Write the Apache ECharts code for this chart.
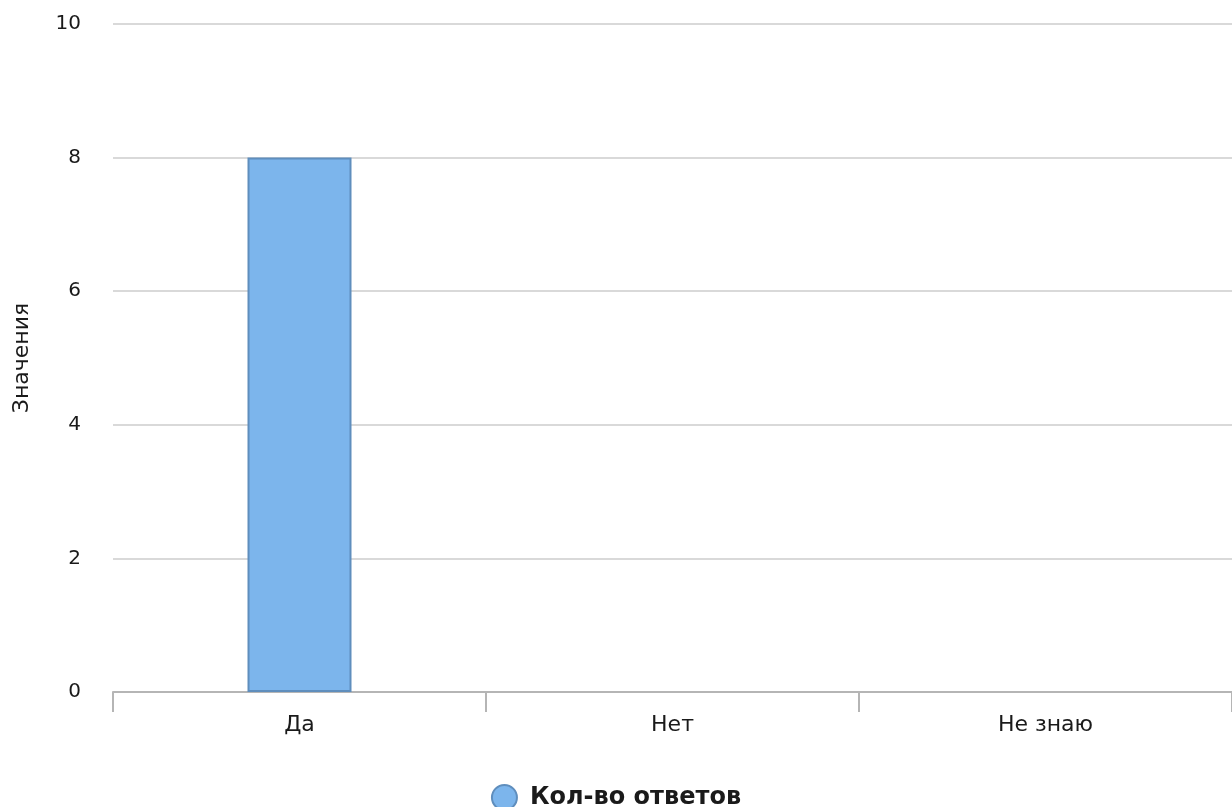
<!DOCTYPE html>
<html><head><meta charset="utf-8">
<script src="https://cdn.jsdelivr.net/npm/echarts@6/dist/echarts.min.js"></script>
<style>html,body{margin:0;padding:0;background:#fff}#c{width:1232px;height:807px}</style>
</head><body><div id="c"></div>
<script>
const categories = ['Да', 'Нет', 'Не знаю'];
const seriesName = 'Кол-во ответов';
const values = [8, 0, 0];
const yTicks = [0, 2, 4, 6, 8, 10];

const chart = echarts.init(document.getElementById('c'), null, {renderer: 'canvas'});
chart.setOption({
  animation: false,
  textStyle: {fontFamily: 'DejaVu Sans'},
  grid: {left: 113, right: 0, top: 24, bottom: 115, outerBoundsMode: 'none', containLabel: false},
  legend: {
    data: [seriesName], top: 779, left: 'center', icon: 'circle',
    itemWidth: 25, itemHeight: 25, itemGap: 10,
    textStyle: {fontFamily: 'DejaVu Sans', fontSize: 24, fontWeight: 'bold', color: '#1a1a1a', padding: [0, 0, 0, 8]}
  },
  xAxis: {
    type: 'category', data: categories,
    axisLine: {lineStyle: {color: '#b5b5b5', width: 2}},
    axisTick: {show: true, alignWithLabel: false, length: 20, lineStyle: {color: '#b5b5b5', width: 2}},
    axisLabel: {fontSize: 22, color: '#1a1a1a', margin: 22}
  },
  yAxis: {
    type: 'value', min: yTicks[0], max: yTicks[yTicks.length - 1], interval: 2,
    name: 'Значения', nameLocation: 'middle', nameGap: 80,
    nameTextStyle: {fontSize: 22, color: '#1a1a1a'},
    axisLine: {show: false}, axisTick: {show: false},
    axisLabel: {fontSize: 20, color: '#1a1a1a', margin: 32},
    splitLine: {lineStyle: {color: '#d9d9d9', width: 2}}
  },
  series: [{
    name: seriesName, type: 'bar', barWidth: 104,
    data: values.map(v => v === 0 ? {value: v, itemStyle: {borderWidth: 0}} : v),
    itemStyle: {color: '#7cb5ec', borderColor: '#5f8ebd', borderWidth: 2}
  }]
});
</script></body></html>
